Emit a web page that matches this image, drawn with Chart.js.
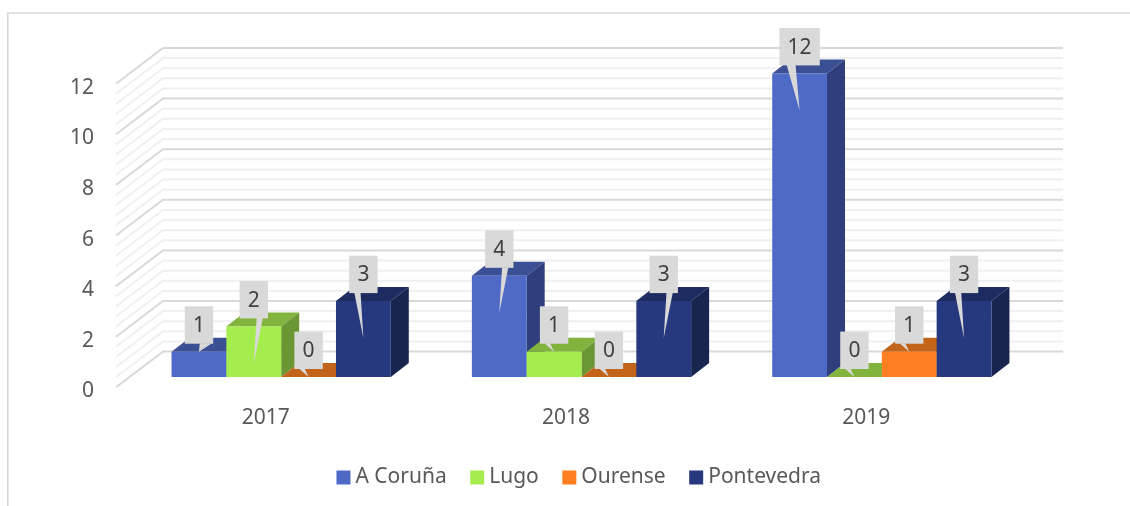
<!DOCTYPE html>
<html>
<head>
<meta charset="utf-8">
<style>html,body{margin:0;padding:0;background:#fff}canvas{display:block}</style>
<script src="https://cdn.jsdelivr.net/npm/chart.js@4/dist/chart.umd.js"></script>
</head>
<body>
<canvas id="c" width="1130" height="506"></canvas>
<script>
const categories = ['2017', '2018', '2019'];
const aCoruna = [1, 4, 12];
const lugo = [2, 1, 0];
const ourense = [0, 0, 1];
const pontevedra = [3, 3, 3];
const seriesNames = ['A Coruña', 'Lugo', 'Ourense', 'Pontevedra'];
const yTicksStep = 2;
const minorStep = 0.4;
const yMax = 12;

// side the callout pointer leaves its box from, per series and year
const sideACoruna = ['r', 'r', 'l'];
const sideLugo = ['r', 'l', 'l'];
const sideOurense = ['l', 'l', 'l'];
const sidePontevedra = ['l', 'r', 'l'];

const frontColors = ['#4F69C6', '#A5EC4F', '#FF7F22', '#26397F'];
const topColors = ['#3B4F95', '#82B43D', '#C2641A', '#1D2B60'];
const sideColors = ['#2F3F7E', '#6A9733', '#A5540F', '#18264F'];

const sideSets = [sideACoruna, sideLugo, sideOurense, sidePontevedra];
const valueSets = [aCoruna, lugo, ourense, pontevedra];

const FONT = '"Noto Sans", sans-serif';
const BAR_DX = 18, BAR_DY = 14;

function poly(ctx, pts, fill) {
  ctx.beginPath();
  pts.forEach((p, i) => i ? ctx.lineTo(p[0], p[1]) : ctx.moveTo(p[0], p[1]));
  ctx.closePath();
  ctx.fillStyle = fill;
  ctx.fill();
}

const chart3d = {
  id: 'chart3d',
  afterLayout(chart) {
    // legend sits higher and further right than its default centred slot
    const lg = chart.legend;
    lg.left += 65.5; lg.right += 65.5;
    lg.top -= 8; lg.bottom -= 8;
  },
  beforeDraw(chart) {
    const ctx = chart.ctx;
    ctx.save();
    ctx.strokeStyle = '#D9D9D9';
    ctx.lineWidth = 1.6;
    ctx.beginPath();
    ctx.moveTo(7.8, 506); ctx.lineTo(7.8, 13); ctx.lineTo(1130, 13);
    ctx.stroke();
    ctx.restore();
  },
  beforeDatasetsDraw(chart) {
    const ctx = chart.ctx, y = chart.scales.y, a = chart.chartArea;
    ctx.save();
    // walls: minor lines first, then the major ones
    const n = Math.round(yMax / minorStep);
    for (const pass of [0, 1]) {
      for (let i = 0; i <= n; i++) {
        const v = i * minorStep;
        const major = Math.abs(v / yTicksStep - Math.round(v / yTicksStep)) < 1e-6;
        if (major !== !!pass) continue;
        const py = y.getPixelForValue(v);
        ctx.strokeStyle = major ? '#D9D9D9' : '#F0F0F0';
        ctx.lineWidth = 2;
        ctx.beginPath();
        ctx.moveTo(a.left - 15, py + 10.3);
        ctx.lineTo(a.left + 32, py - 25.4);
        ctx.lineTo(a.right + 31, py - 25.4);
        ctx.stroke();
      }
    }
    // bars painted left to right, each with its depth faces under the front
    chart.getSortedVisibleDatasetMetas().forEach((meta) => {
      const ds = meta.index;
      meta.data.forEach((b) => {
        const l = b.x - b.width / 2, r = b.x + b.width / 2, t = b.y, bt = b.base;
        poly(ctx, [[l, t], [l + BAR_DX, t - BAR_DY], [r + BAR_DX, t - BAR_DY], [r, t]], topColors[ds]);
        if (bt > t) poly(ctx, [[r, t], [r + BAR_DX, t - BAR_DY], [r + BAR_DX, bt - BAR_DY], [r, bt]], sideColors[ds]);
      });
      meta.controller.draw();
    });
    ctx.restore();
    return false;
  },
  afterDraw(chart) {
    const ctx = chart.ctx;
    ctx.save();
    ctx.font = '21px ' + FONT;
    ctx.textAlign = 'center';
    ctx.textBaseline = 'middle';
    chart.getSortedVisibleDatasetMetas().forEach((meta) => {
      const ds = meta.index;
      meta.data.forEach((b, i) => {
        const v = valueSets[ds][i];
        const label = String(v);
        const w = label.length > 1 ? 40.4 : 28.4, h = 37.4;
        const bx = b.x - w / 2, bot = b.y - 8, top = bot - h;
        const tipY = v >= 2 ? bot + 45 : bot + 8;
        const right = sideSets[ds][i] === 'r';
        let f0, f1;
        if (v >= 2) { f0 = right ? 0.60 : 0.18; f1 = right ? 0.82 : 0.40; }
        else { f0 = right ? 0.53 : 0.16; f1 = right ? 0.96 : 0.36; }
        ctx.fillStyle = '#D9D9D9';
        ctx.fillRect(bx, top, w, h);
        poly(ctx, [[bx + w * f0, bot - 0.5], [b.x, tipY], [bx + w * f1, bot - 0.5]], '#D9D9D9');
        ctx.fillStyle = '#404040';
        ctx.fillText(label, b.x, top + h / 2 + 1);
      });
    });
    ctx.restore();
  }
};

new Chart(document.getElementById('c'), {
  type: 'bar',
  data: {
    labels: categories,
    datasets: valueSets.map((vals, i) => ({
      label: seriesNames[i],
      data: vals,
      backgroundColor: frontColors[i],
      borderWidth: 0,
      categoryPercentage: 0.73,
      barPercentage: 1
    }))
  },
  options: {
    responsive: false,
    animation: false,
    devicePixelRatio: 1,
    layout: { padding: { top: 73.4, right: 98, left: 0, bottom: 0 } },
    plugins: {
      tooltip: { enabled: false },
      legend: {
        position: 'bottom',
        labels: {
          color: '#595959',
          font: { family: FONT, size: 21 },
          boxWidth: 3,
          boxHeight: 3,
          padding: 29,
          generateLabels: (chart) => chart.data.datasets.map((d, i) => ({
            text: d.label,
            fillStyle: d.backgroundColor,
            strokeStyle: d.backgroundColor,
            fontColor: '#595959',
            lineWidth: 11,
            datasetIndex: i,
            hidden: false
          }))
        }
      }
    },
    scales: {
      x: {
        grid: { display: false, drawTicks: false },
        border: { display: false },
        afterFit: (s) => { s.height = 69; },
        ticks: {
          color: '#595959',
          font: { family: FONT, size: 21 },
          padding: 28,
          labelOffset: -15.5,
          maxRotation: 0
        }
      },
      y: {
        min: 0,
        max: yMax,
        grid: { display: false, drawTicks: false },
        border: { display: false },
        afterFit: (s) => { s.width = 131; },
        ticks: {
          stepSize: yTicksStep,
          color: '#595959',
          font: { family: FONT, size: 21 },
          padding: 37,
          labelOffset: 14.5
        }
      }
    }
  },
  plugins: [chart3d]
});
</script>
</body>
</html>
